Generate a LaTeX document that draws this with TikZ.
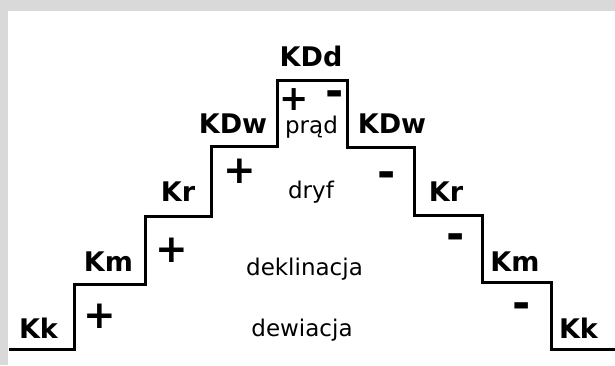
\documentclass[tikz,border=0pt]{standalone}
\usepackage{fontspec}
\setmainfont{DejaVu Sans}
\definecolor{framegray}{RGB}{217,217,217}
\tikzset{
  lbl/.style={inner sep=0pt, anchor=base, font=\fontsize{27}{30}\selectfont\bfseries},
  word/.style={inner sep=0pt, anchor=base, font=\fontsize{23}{26}\selectfont},
  plussign/.style={inner sep=0pt, anchor=center, font=\fontsize{39}{42}\selectfont\bfseries},
  smallplus/.style={plussign, font=\fontsize{35}{38}\selectfont\bfseries},
  minussign/.style={inner sep=0pt, anchor=center, font=\fontsize{44}{46}\selectfont\bfseries},
  stair/.style={line width=3pt, line join=miter}
}
\begin{document}
\begin{tikzpicture}[x=1pt,y=-1pt]
\useasboundingbox (0,0) rectangle (615,365);
\fill[framegray] (0,0) rectangle (615,365);
\fill[white] (8,11) rectangle (615,365);
% staircase
\draw[stair] (9,349) -- (74.5,349) -- (74.5,284.5) -- (145,284.5) -- (145,216.5)
  -- (211,216.5) -- (211,146.5) -- (277.5,146.5) -- (277.5,80.5) -- (347.5,80.5)
  -- (347.5,147) -- (414,147) -- (414,215) -- (482.5,215) -- (482.5,282.5)
  -- (551.5,282.5) -- (551.5,349) -- (615,349);
% labels
\node[lbl] (kdd) at (311,66) {KDd};
\node[lbl] (kdwl) at (233,133) {KDw};
\node[lbl] (kdwr) at (392,133) {KDw};
\node[lbl] (krl) at (178,201) {Kr};
\node[lbl] (krr) at (446,201) {Kr};
\node[lbl] (kml) at (108.5,271) {Km};
\node[lbl] (kmr) at (515,271) {Km};
\node[lbl] (kkl) at (38.5,338) {Kk};
\node[lbl] (kkr) at (578.5,338) {Kk};
% words
\node[word] (prad) at (311.5,133) {prąd};
\node[word] (dryf) at (311,198) {dryf};
\node[word] (dekl) at (304.5,275) {deklinacja};
\node[word] (dewi) at (302,336.5) {dewiacja};
% signs
\node[plussign] (p1) at (100,316.5) {+};
\node[plussign] (p2) at (171.5,250) {+};
\node[plussign] (p3) at (239.5,171.5) {+};
\node[smallplus] (p4) at (294.5,99.5) {+};
\node[minussign] (m4) at (335,98.5) {-};
\node[minussign] (m3) at (387,180) {-};
\node[minussign] (m2) at (456,242) {-};
\node[minussign] (m1) at (522,310.5) {-};
\end{tikzpicture}
\end{document}
